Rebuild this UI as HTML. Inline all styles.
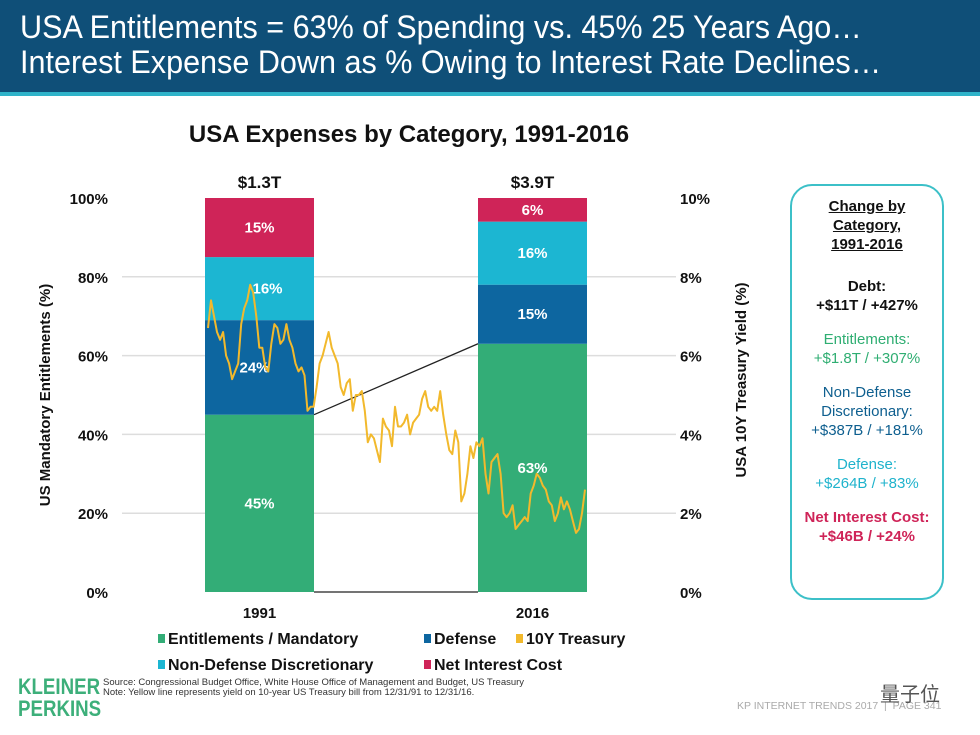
<!DOCTYPE html>
<html><head><meta charset="utf-8">
<style>
body{margin:0;width:980px;height:735px;background:#fff;font-family:"Liberation Sans",Arial,sans-serif;overflow:hidden;position:relative}
.hdr{position:absolute;left:0;top:0;width:980px;height:92px;background:#0f4f78}
.strip{position:absolute;left:0;top:92px;width:980px;height:4px;background:#2fb3c9}
.hdr div{position:absolute;left:20px;color:#fff;font-size:32px;white-space:nowrap;transform:scaleX(0.955);transform-origin:left}
.box{position:absolute;left:790px;top:184px;width:150px;height:412px;border:2px solid #3cc0c8;border-radius:22px;text-align:center;font-size:15px;line-height:19px}
.box p{margin:0 0 15px 0}
</style></head><body>
<div class="hdr">
<div style="top:9px">USA Entitlements = 63% of Spending vs. 45% 25 Years Ago…</div>
<div style="top:44px">Interest Expense Down as % Owing to Interest Rate Declines…</div>
</div>
<div class="strip"></div>

<svg id="chart" width="980" height="735" style="position:absolute;left:0;top:0">
<text x="409" y="142" text-anchor="middle" font-size="24" font-weight="bold" fill="#111">USA Expenses by Category, 1991-2016</text>
<text x="50" y="395" transform="rotate(-90 50 395)" text-anchor="middle" font-size="15" font-weight="bold" fill="#111">US Mandatory Entitlements (%)</text>
<text x="746" y="380" transform="rotate(-90 746 380)" text-anchor="middle" font-size="15" font-weight="bold" fill="#111">USA 10Y Treasury Yield (%)</text>
<g id="grid"></g><g id="bars"></g><g id="lines"></g><g id="axes"></g>
</svg>

<div class="box">
<p style="margin-top:11px;font-weight:bold;color:#111;text-decoration:underline">Change by<br>Category,<br>1991-2016</p>
<p style="font-weight:bold;color:#111;margin-top:23px">Debt:<br>+$11T / +427%</p>
<p style="color:#2fae72">Entitlements:<br>+$1.8T / +307%</p>
<p style="color:#0e5f8f">Non-Defense<br>Discretionary:<br>+$387B / +181%</p>
<p style="color:#1fb3cc">Defense:<br>+$264B / +83%</p>
<p style="font-weight:bold;color:#cf2458">Net Interest Cost:<br>+$46B / +24%</p>
</div>

<div style="position:absolute;left:18px;top:676px;color:#3daf7a;font-weight:bold;font-size:22px;line-height:22px;transform:scaleX(0.85);transform-origin:left">KLEINER<br>PERKINS</div>
<div style="position:absolute;left:103px;top:678px;font-size:9.5px;line-height:10px;color:#333">Source: Congressional Budget Office, White House Office of Management and Budget, US Treasury<br>Note: Yellow line represents yield on 10-year US Treasury bill from 12/31/91 to 12/31/16.</div>
<div style="position:absolute;left:737px;top:700px;font-size:10.5px;color:#aaa">KP INTERNET TRENDS 2017 &nbsp;| &nbsp;PAGE 341</div>
<div style="position:absolute;left:880px;top:678px;font-size:20px;color:#555;font-family:'Liberation Sans','Noto Sans CJK SC',sans-serif">量子位</div>

<script>
const categories=["1991","2016"];
const totals=["$1.3T","$3.9T"];
const entitlements=[45,63];
const defense=[24,15];
const nondefense=[16,16];
const interest=[15,6];
const leftTicks=[0,20,40,60,80,100];
const rightTicks=[0,2,4,6,8,10];
const yieldStart=1992, yieldStep=0.2;
const yields=[6.7,7.4,7.0,6.6,6.4, 6.6,6.0,5.8,5.4,5.6, 5.8,6.8,7.2,7.4,7.8, 7.6,7.0,6.2,6.2,5.7, 5.6,6.3,6.8,6.7,6.3, 6.4,6.8,6.4,6.2,5.8, 5.6,5.7,5.5,4.6,4.7, 4.7,5.2,5.8,6.0,6.3, 6.6,6.2,6.0,5.8,5.2, 5.0,5.3,5.4,4.6,5.0, 5.0,5.1,4.6,3.8,4.0, 3.9,3.6,3.3,4.4,4.2, 4.1,3.7,4.7,4.2,4.2, 4.3,4.5,4.0,4.3,4.4, 4.5,4.9,5.1,4.7,4.6, 4.7,4.6,5.1,4.5,4.0, 3.6,3.5,4.1,3.8,2.3, 2.5,3.0,3.7,3.4,3.8, 3.7,3.9,3.0,2.5,3.3, 3.4,3.5,3.0,2.0,1.9, 2.0,2.2,1.6,1.7,1.8, 1.9,1.8,2.5,2.7,3.0, 2.9,2.7,2.6,2.3,2.2, 1.8,2.0,2.4,2.1,2.3, 2.1,1.8,1.5,1.6,2.0, 2.6];
const NS="http://www.w3.org/2000/svg";
const y0=592,y1=198;
const yL=v=>y0-(v/100)*(y0-y1);
const yR=v=>y0-(v/10)*(y0-y1);
const barX=i=>205+i*273, barW=109;
const tx=t=>208+(t-1992)/25*377;
function mk(tag,attrs,parent,text){const e=document.createElementNS(NS,tag);for(const k in attrs)e.setAttribute(k,attrs[k]);if(text!==undefined)e.textContent=text;document.getElementById(parent).appendChild(e);return e;}
leftTicks.forEach((v,i)=>{
  if(v>0&&v<100){const g=mk('line',{x1:122,x2:676,y1:yL(v),y2:yL(v),stroke:'#ddd','stroke-width':1.5},'grid');
  
  }
  const t=mk('text',{x:108,y:yL(v)+6,'text-anchor':'end','font-size':15,'font-weight':'bold',fill:'#111'},'axes',v+'%');
  
  
});
rightTicks.forEach(v=>{
  const t=mk('text',{x:680,y:yR(v)+6,'font-size':15,'font-weight':'bold',fill:'#111'},'axes',v+'%');
  
  
});
const segs=[[entitlements,'#33ad77'],[defense,'#0d66a0'],[nondefense,'#1cb6d2'],[interest,'#cf2458']];
const segNames=['entitlements','defense','nondefense','interest'];
categories.forEach((c,i)=>{
  let acc=0;
  segs.forEach(([arr,col],k)=>{
    const v=arr[i];
    const r=mk('rect',{x:barX(i),y:yL(acc+v),width:barW,height:yL(acc)-yL(acc+v),fill:col},'bars');
    
    
    const l=mk('text',{x:barX(i)+barW/2-(i==0&&k>0&&k<3?5:0)+(i==0&&k==2?13:0),y:(yL(acc)+yL(acc+v))/2+5,'text-anchor':'middle','font-size':15,'font-weight':'bold',fill:'#fff'},'bars',v+'%');
    
    
    acc+=v;
  });
  const cl=mk('text',{x:barX(i)+barW/2,y:618,'text-anchor':'middle','font-size':15,'font-weight':'bold',fill:'#111'},'axes',c);
  
  
  const tl=mk('text',{x:barX(i)+barW/2,y:188,'text-anchor':'middle','font-size':17,'font-weight':'bold',fill:'#111'},'axes',totals[i]);
  
  
});
const c1=mk('line',{x1:barX(0)+barW,y1:yL(entitlements[0]),x2:barX(1),y2:yL(entitlements[1]),stroke:'#222','stroke-width':1.3},'lines');


const c2=mk('line',{x1:barX(0)+barW,y1:y0,x2:barX(1),y2:y0,stroke:'#222','stroke-width':1.3},'lines');


const pts=yields.map((v,i)=>tx(yieldStart+i*yieldStep).toFixed(1)+','+yR(v).toFixed(1)).join(' ');
const pl=mk('polyline',{points:pts,fill:'none',stroke:'#f2b92c','stroke-width':2,'stroke-linejoin':'round'},'lines');


const leg=[['Entitlements / Mandatory','#33ad77',158,644],['Defense','#0d66a0',424,644],['10Y Treasury','#f2b92c',516,644],['Non-Defense Discretionary','#1cb6d2',158,670],['Net Interest Cost','#cf2458',424,670]];
leg.forEach(([n,col,x,y])=>{
  const r=mk('rect',{x:x,y:y-10,width:7,height:9,fill:col},'axes');
  
  
  const t=mk('text',{x:x+10,y:y,'font-size':16,'font-weight':'bold',fill:'#111'},'axes',n);
  
  
});
</script>
</body></html>
